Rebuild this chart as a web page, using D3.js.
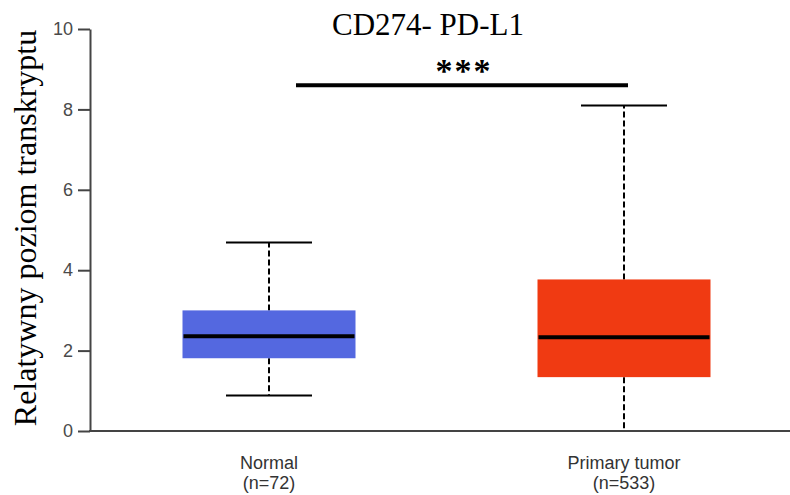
<!DOCTYPE html>
<html>
<head>
<meta charset="utf-8">
<script src="https://cdn.jsdelivr.net/npm/d3@7"></script>
<style>
  html, body { margin: 0; padding: 0; background: #fff; }
  svg { display: block; }
</style>
</head>
<body>
<svg id="chart" width="790" height="495"></svg>
<script>
// Groups and their sample sizes
const categories = ["Normal", "Primary tumor"];
const sampleSizes = [72, 533];
// Box statistics per group
const whiskerLow = [0.88, 0.0];
const q1 = [1.81, 1.34];
const median = [2.36, 2.33];
const q3 = [3.0, 3.77];
const whiskerHigh = [4.69, 8.1];
const boxColors = ["#5468E0", "#F03A12"];
// Y axis ticks
const yTicks = [0, 2, 4, 6, 8, 10];
// Significance bracket
const sigLevel = 8.6;
const sigLabel = "***";

const svg = d3.select("#chart");
const W = 790, H = 495;
const margin = { top: 29, right: 0, bottom: 64, left: 90 };
const plotBottom = H - margin.bottom;

const y = d3.scaleLinear().domain([0, 10]).range([plotBottom, margin.top]);
const x = d3.scalePoint().domain(categories).range([margin.left + 179, W - 166]);

const boxW = 173, capW = 86;

// Title
svg.append("text")
  .attr("x", 428).attr("y", 35)
  .attr("text-anchor", "middle")
  .attr("font-family", "'Liberation Serif', 'Times New Roman', serif")
  .attr("font-size", 31)
  .attr("fill", "#000")
  .text("CD274- PD-L1");

// Y axis title
svg.append("text")
  .attr("transform", `translate(36, 228) rotate(-90)`)
  .attr("text-anchor", "middle")
  .attr("font-family", "'Liberation Serif', 'Times New Roman', serif")
  .attr("font-size", 32)
  .attr("fill", "#000")
  .text("Relatywny poziom transkryptu");

// Y axis
const yAxis = svg.append("g")
  .attr("transform", `translate(${margin.left},0)`)
  .call(d3.axisLeft(y).tickValues(yTicks).tickSize(12).tickPadding(5).tickSizeOuter(0));
yAxis.select(".domain").attr("stroke", "#444").attr("stroke-width", 2);
yAxis.selectAll(".tick line").attr("stroke", "#444").attr("stroke-width", 2);
yAxis.selectAll(".tick text")
  .attr("font-family", "'Liberation Sans', Arial, sans-serif")
  .attr("font-size", 18)
  .attr("fill", "#4a4a4a");

// X axis line
svg.append("line")
  .attr("x1", margin.left - 1).attr("x2", W)
  .attr("y1", y(0)).attr("y2", y(0))
  .attr("stroke", "#444").attr("stroke-width", 2);

// Boxes
const groups = categories.map((c, i) => ({
  cat: c, n: sampleSizes[i], lo: whiskerLow[i], q1: q1[i], med: median[i],
  q3: q3[i], hi: whiskerHigh[i], color: boxColors[i]
}));

const g = svg.selectAll("g.box").data(groups).join("g").attr("class", "box");

// whiskers (dashed)
g.append("line")
  .attr("x1", d => x(d.cat)).attr("x2", d => x(d.cat))
  .attr("y1", d => y(d.q3)).attr("y2", d => y(d.hi))
  .attr("stroke", "#000").attr("stroke-width", 2).attr("stroke-dasharray", "6,3");
g.append("line")
  .attr("x1", d => x(d.cat)).attr("x2", d => x(d.cat))
  .attr("y1", d => y(d.q1)).attr("y2", d => y(d.lo))
  .attr("stroke", "#000").attr("stroke-width", 2).attr("stroke-dasharray", "6,3");
// caps
g.append("line")
  .attr("x1", d => x(d.cat) - capW / 2).attr("x2", d => x(d.cat) + capW / 2)
  .attr("y1", d => y(d.hi)).attr("y2", d => y(d.hi))
  .attr("stroke", "#000").attr("stroke-width", 2);
g.filter(d => d.lo > 0).append("line")
  .attr("x1", d => x(d.cat) - capW / 2).attr("x2", d => x(d.cat) + capW / 2)
  .attr("y1", d => y(d.lo)).attr("y2", d => y(d.lo))
  .attr("stroke", "#000").attr("stroke-width", 2);
// box
g.append("rect")
  .attr("x", d => x(d.cat) - boxW / 2)
  .attr("y", d => y(d.q3))
  .attr("width", boxW)
  .attr("height", d => y(d.q1) - y(d.q3))
  .attr("fill", d => d.color);
// median
g.append("line")
  .attr("x1", d => x(d.cat) - boxW / 2 + 1).attr("x2", d => x(d.cat) + boxW / 2 - 1)
  .attr("y1", d => y(d.med)).attr("y2", d => y(d.med))
  .attr("stroke", "#000").attr("stroke-width", 4);

// Category labels
const lbl = svg.selectAll("text.cat").data(groups).join("text")
  .attr("class", "cat")
  .attr("text-anchor", "middle")
  .attr("font-family", "'Liberation Sans', Arial, sans-serif")
  .attr("font-size", 18)
  .attr("fill", "#333");
lbl.append("tspan").attr("x", d => x(d.cat)).attr("y", 469).text(d => d.cat);
lbl.append("tspan").attr("x", d => x(d.cat)).attr("y", 489).text(d => `(n=${d.n})`);

// Significance bracket
const sx1 = x(categories[0]) + 27, sx2 = x(categories[1]) + 4;
svg.append("line")
  .attr("x1", sx1).attr("x2", sx2)
  .attr("y1", y(sigLevel)).attr("y2", y(sigLevel))
  .attr("stroke", "#000").attr("stroke-width", 4);
svg.append("text")
  .attr("x", 464).attr("y", y(sigLevel) - 3)
  .attr("text-anchor", "middle")
  .attr("font-family", "'Liberation Serif', 'Times New Roman', serif")
  .attr("font-size", 34)
  .attr("font-weight", "bold")
  .attr("letter-spacing", 2)
  .attr("fill", "#000")
  .text(sigLabel);
</script>
</body>
</html>
